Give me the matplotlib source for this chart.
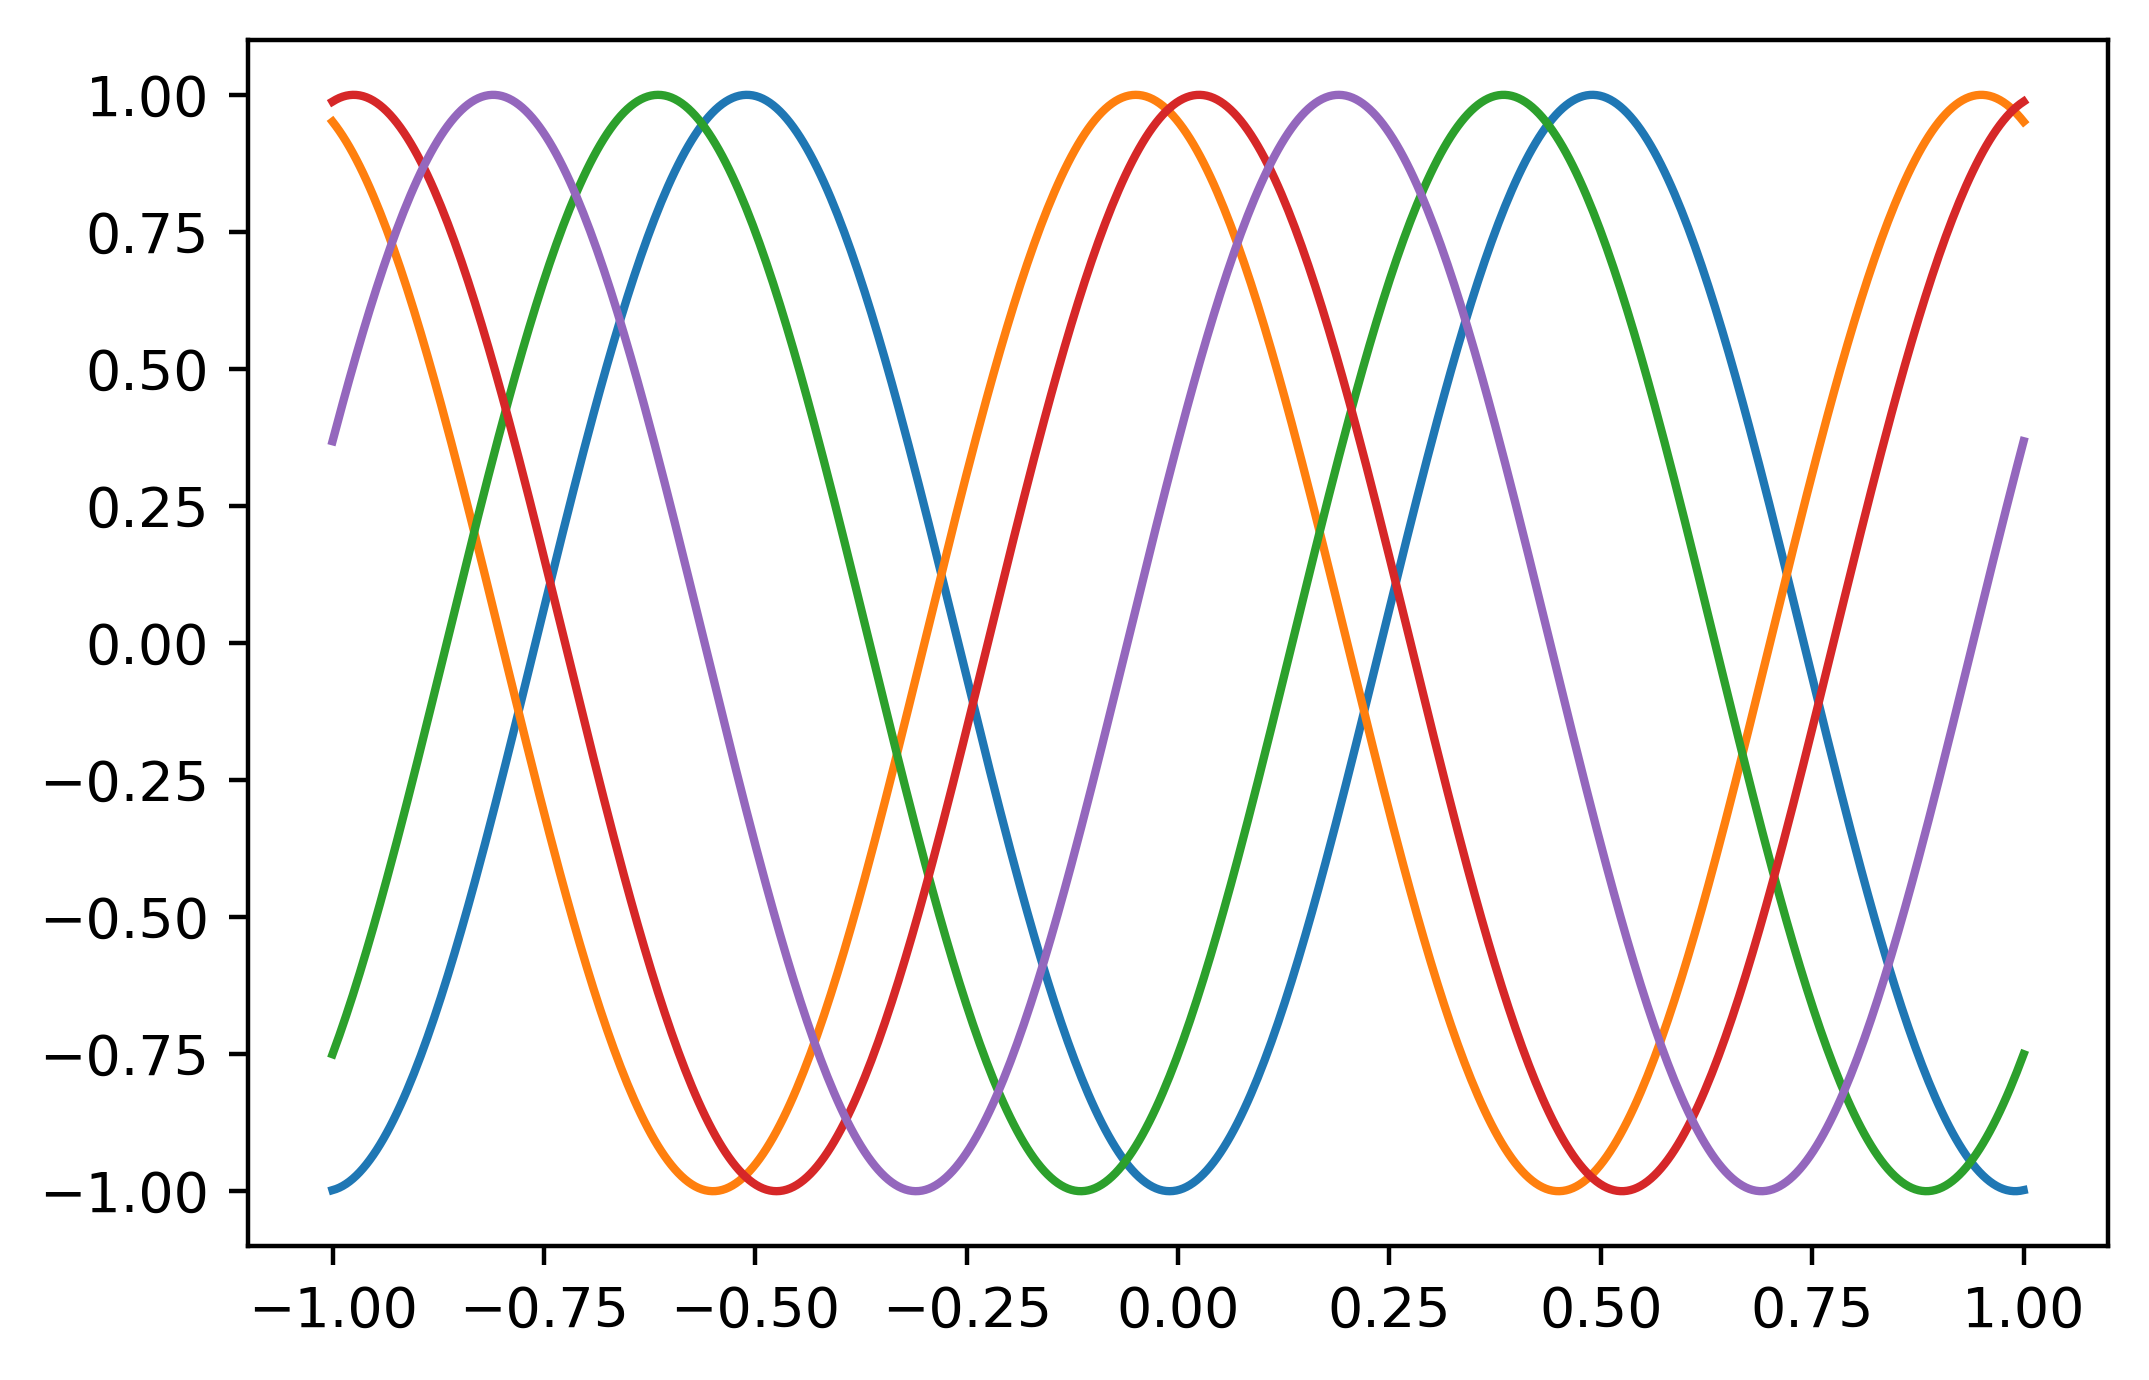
import numpy as np
import matplotlib.pyplot as plt

# x range of the curves
x_start, x_end = -1.0, 1.0
n_points = 500

# each curve is a unit cosine with period 1; value = x position of a peak
peak_positions = [0.49, 0.95, 0.385, 0.025, 0.19]
curve_colors = ["C0", "C1", "C2", "C3", "C4"]

x = np.linspace(x_start, x_end, n_points)

dpi = 400
fig, ax = plt.subplots(figsize=(2149 / dpi, 1380 / dpi), dpi=dpi)
fig.subplots_adjust(left=0.1154, right=0.981, top=0.971, bottom=0.0971)

for peak, color in zip(peak_positions, curve_colors):
    ax.plot(x, np.cos(2 * np.pi * (x - peak)), color=color)

ax.set_xticks(np.arange(-1.0, 1.01, 0.25))
ax.set_yticks(np.arange(-1.0, 1.01, 0.25))
# real minus sign like the default formatter
fmt = plt.FuncFormatter(lambda v, p: f"{v:.2f}".replace("-", "\u2212"))
ax.xaxis.set_major_formatter(fmt)
ax.yaxis.set_major_formatter(fmt)

plt.savefig("out.png", dpi=dpi)
